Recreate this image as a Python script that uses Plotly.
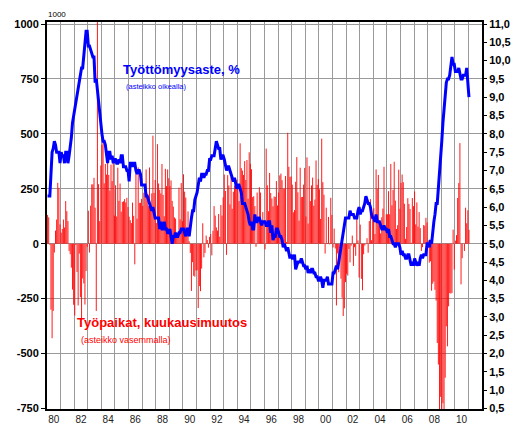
import plotly.graph_objects as go

# ---- Monthly unemployment rate, % (right axis), Jan 1980 .. Jan 2011
unemp_1980s = [
    6.3, 6.3, 6.3, 6.9, 7.5, 7.6, 7.8, 7.7, 7.5, 7.5, 7.5, 7.2,
    7.5, 7.4, 7.4, 7.2, 7.5, 7.5, 7.2, 7.4, 7.6, 7.9, 8.3, 8.5,
    8.6, 8.9, 9.0, 9.3, 9.4, 9.6, 9.8, 9.8, 10.1, 10.4, 10.8, 10.8,
    10.4, 10.4, 10.3, 10.2, 10.1, 10.1, 9.4, 9.5, 9.2, 8.8, 8.5, 8.3,
    8.0, 7.8, 7.8, 7.7, 7.4, 7.2, 7.5, 7.5, 7.3, 7.4, 7.2, 7.3,
    7.3, 7.2, 7.2, 7.3, 7.2, 7.4, 7.4, 7.1, 7.1, 7.1, 7.0, 7.0,
    6.7, 7.2, 7.2, 7.1, 7.2, 7.2, 7.0, 6.9, 7.0, 7.0, 6.9, 6.6,
    6.6, 6.6, 6.6, 6.3, 6.3, 6.2, 6.1, 6.0, 5.9, 6.0, 5.8, 5.7,
    5.7, 5.7, 5.7, 5.4, 5.6, 5.4, 5.4, 5.6, 5.4, 5.4, 5.3, 5.3,
    5.4, 5.2, 5.0, 5.2, 5.2, 5.3, 5.2, 5.2, 5.3, 5.3, 5.4, 5.4,
]
unemp_1990s = [
    5.4, 5.3, 5.2, 5.4, 5.4, 5.2, 5.5, 5.7, 5.9, 5.9, 6.2, 6.3,
    6.4, 6.6, 6.8, 6.7, 6.9, 6.9, 6.8, 6.9, 6.9, 7.0, 7.0, 7.3,
    7.3, 7.4, 7.4, 7.4, 7.6, 7.8, 7.7, 7.6, 7.6, 7.3, 7.4, 7.4,
    7.3, 7.1, 7.0, 7.1, 7.1, 7.0, 6.9, 6.8, 6.7, 6.8, 6.6, 6.5,
    6.6, 6.6, 6.5, 6.4, 6.1, 6.1, 6.1, 6.0, 5.9, 5.8, 5.6, 5.5,
    5.6, 5.4, 5.4, 5.8, 5.6, 5.6, 5.7, 5.7, 5.6, 5.5, 5.6, 5.6,
    5.6, 5.5, 5.5, 5.6, 5.6, 5.3, 5.5, 5.1, 5.2, 5.2, 5.4, 5.4,
    5.3, 5.2, 5.2, 5.1, 4.9, 5.0, 4.9, 4.8, 4.9, 4.7, 4.6, 4.7,
    4.6, 4.6, 4.7, 4.3, 4.4, 4.5, 4.5, 4.5, 4.6, 4.5, 4.4, 4.4,
    4.3, 4.4, 4.2, 4.3, 4.2, 4.3, 4.3, 4.2, 4.2, 4.1, 4.1, 4.0,
]
unemp_2000s = [
    4.0, 4.1, 4.0, 3.8, 4.0, 4.0, 4.0, 4.1, 3.9, 3.9, 3.9, 3.9,
    4.2, 4.2, 4.3, 4.4, 4.3, 4.5, 4.6, 4.9, 5.0, 5.3, 5.5, 5.7,
    5.7, 5.7, 5.7, 5.9, 5.8, 5.8, 5.8, 5.7, 5.7, 5.7, 5.9, 6.0,
    5.8, 5.9, 5.9, 6.0, 6.1, 6.3, 6.2, 6.1, 6.1, 6.0, 5.8, 5.7,
    5.7, 5.6, 5.8, 5.6, 5.6, 5.6, 5.5, 5.4, 5.4, 5.5, 5.4, 5.4,
    5.3, 5.4, 5.2, 5.2, 5.1, 5.0, 5.0, 4.9, 5.0, 5.0, 5.0, 4.9,
    4.7, 4.8, 4.7, 4.7, 4.6, 4.6, 4.7, 4.7, 4.5, 4.4, 4.5, 4.4,
    4.6, 4.5, 4.4, 4.5, 4.4, 4.6, 4.7, 4.6, 4.7, 4.7, 4.7, 5.0,
    5.0, 4.9, 5.1, 5.0, 5.4, 5.6, 5.8, 6.1, 6.1, 6.5, 6.8, 7.3,
    7.8, 8.3, 8.7, 9.0, 9.4, 9.5, 9.5, 9.6, 9.8, 10.1, 9.9, 9.9,
]
unemp_2010s = [
    9.7, 9.7, 9.7, 9.8, 9.6, 9.5, 9.5, 9.6, 9.6, 9.6, 9.8, 9.4,
    9.0,
]

# ---- Monthly change in jobs, thousands (left axis), Jan 1980 .. Jan 2011
jobs_1980s = [
    131, 120, -5, -300, -430, -306, -40, 60, 110, 277, 254, 88,
    50, 67, 110, 74, 194, 148, 103, -33, -48, -109, -209, -278,
    -327, -6, -129, -281, -45, -243, -343, -158, -181, -277, -124, -14,
    150, -40, 173, 270, 270, 300, 164, -306, 1114, 271, 103, 356,
    451, 481, 275, 363, 315, 379, 313, 242, 360, 285, 375, 128,
    266, 124, 346, 195, 274, 146, 190, 193, 203, 188, 209, 167,
    123, 107, 94, 187, 127, -94, 318, 114, 347, 186, 186, 204,
    172, 232, 249, 338, 227, 172, 347, 171, 229, 492, 231, 290,
    94, 453, 274, 245, 229, 363, 222, 125, 341, 262, 338, 298,
    263, 288, 195, 169, 120, 114, 41, 45, 255, 111, 276, 102,
]
jobs_1990s = [
    316, 237, 210, 35, 147, 11, -42, -215, -84, -146, -150, -122,
    -121, -293, -193, -216, -113, 93, -62, -42, 37, 17, -18, 31,
    44, -53, 59, 171, 128, 74, 60, 135, 32, 176, 128, 211,
    315, 240, -51, 312, 265, 179, 301, 159, 236, 265, 277, 291,
    271, 194, 457, 344, 333, 313, 376, 290, 381, 205, 416, 364,
    339, 212, 216, 171, -14, 233, 113, 257, 233, 103, 144, 106,
    -26, 433, 266, 148, 322, 231, 206, 170, 215, 213, 285, 174,
    233, 311, 319, 289, 250, 251, 308, 8, 505, 350, 304, 306,
    269, 143, 153, 282, 394, 234, 105, 346, 212, 213, 269, 345,
    124, 393, 92, 353, 194, 265, 301, 173, 201, 379, 268, 294,
]
jobs_2000s = [
    248, 113, 478, 280, 223, -45, 164, 3, 122, -3, 209, 131,
    -17, 69, -22, -281, -44, -130, -22, -159, -246, -329, -294, -175,
    -137, -145, -24, -85, -9, 37, -101, -16, -55, 124, 15, -154,
    87, -160, -212, -48, -8, -2, 25, -41, 103, 203, 16, 109,
    161, 44, 338, 250, 313, 81, 47, 120, 160, 350, 64, 134,
    134, 239, 134, 363, 175, 245, 373, 196, 67, 84, 337, 159,
    277, 315, 280, 182, 22, 76, 207, 181, 158, 4, 208, 171,
    238, 88, 188, 78, 144, 71, -33, -16, 85, 82, 118, 97,
    15, -86, -80, -214, -182, -172, -210, -259, -452, -550, -765, -697,
    -798, -726, -753, -610, -376, -467, -285, -225, -227, -224, 64, -118,
]
jobs_2010s = [
    14, 39, 208, 276, 458, -185, -66, -1, -33, 164, 93, 152,
    63,
]

x_tick_labels = ["80", "82", "84", "86", "88", "90", "92", "94",
                 "96", "98", "00", "02", "04", "06", "08", "10"]
right_tick_values = [0.5 * k for k in range(1, 23)]
left_ticks = [-750, -500, -250, 0, 250, 500, 750, 1000]

unemp = unemp_1980s + unemp_1990s + unemp_2000s + unemp_2010s
jobs = jobs_1980s + jobs_1990s + jobs_2000s + jobs_2010s
months_u = [1980 + (i + 0.5) / 12 for i in range(len(unemp))]
months_j = [1980 + (i + 0.5) / 12 for i in range(len(jobs))]

# thin monthly bars drawn as vertical line segments from 0 to the value
bar_x, bar_y = [], []
for m, v in zip(months_j, jobs):
    bar_x += [m, m, None]
    bar_y += [0, v, None]

FONT = "Liberation Sans, Arial, sans-serif"

# page body has an 8px default margin -> compensate
OFF = 8
W, H = 520, 435
plot_left, plot_right, plot_top, plot_bottom = 47, 482, 22, 409  # in window pixels
L = plot_left - OFF
T = plot_top - OFF
R = W - (plot_right - OFF)
B = H - (plot_bottom - OFF)
PW, PH = W - L - R, H - T - B


def px(x):
    return (x - OFF - L) / PW


def py(y):
    return (H - B - (y - OFF)) / PH


fig = go.Figure()
fig.add_trace(go.Scatter(x=bar_x, y=bar_y, mode="lines", yaxis="y",
                         line=dict(color="#ff0000", width=0.9),
                         connectgaps=False, showlegend=False, hoverinfo="skip"))
fig.add_trace(go.Scatter(x=months_u, y=unemp, mode="lines", yaxis="y2",
                         line=dict(color="#0000ff", width=3), showlegend=False))

y_lo, y_hi = -752.3, 1009.1

fig.update_layout(
    width=W, height=H,
    margin=dict(l=L, r=R, t=T, b=B, autoexpand=False),
    paper_bgcolor="white", plot_bgcolor="white",
    xaxis=dict(
        range=[1980, 2012],
        tickmode="array",
        tickvals=[1980.5 + 2 * k for k in range(len(x_tick_labels))],
        ticktext=x_tick_labels,
        tickfont=dict(family=FONT, size=10, color="#222"),
        ticks="", showgrid=False, zeroline=False,
        showline=True, linecolor="black", linewidth=2, mirror=True,
        minor=dict(tickmode="linear", tick0=1980, dtick=1, showgrid=True,
                   gridcolor="#9a9a9a", gridwidth=1),
    ),
    yaxis=dict(
        range=[y_lo, y_hi],
        tickmode="array", tickvals=left_ticks, ticktext=[str(v) for v in left_ticks],
        tickfont=dict(family=FONT, size=11, color="black", weight="bold"),
        ticks="outside", ticklen=4, tickcolor="black", tickwidth=1,
        showgrid=True, gridcolor="#9a9a9a", gridwidth=1, zeroline=False,
        showline=True, linecolor="black", linewidth=2,
    ),
    yaxis2=dict(
        overlaying="y", side="right",
        range=[5 + 0.006 * y_lo, 5 + 0.006 * y_hi],
        tickmode="array", tickvals=right_tick_values,
        ticktext=[f"{v:.1f}".replace(".", ",") for v in right_tick_values],
        tickfont=dict(family=FONT, size=11, color="black", weight="bold"),
        ticks="outside", ticklen=3, tickcolor="black", tickwidth=1,
        showgrid=False, zeroline=False,
        showline=True, linecolor="black", linewidth=2,
    ),
    annotations=[
        dict(text="1000", x=px(57), y=py(14), xref="paper", yref="paper",
             showarrow=False, xanchor="center", yanchor="middle",
             font=dict(family=FONT, size=8, color="black")),
        dict(text="Työttömyysaste, %", x=px(121), y=py(69), xref="paper", yref="paper",
             showarrow=False, xanchor="left", yanchor="middle",
             font=dict(family=FONT, size=13, color="#0000ff", weight="bold")),
        dict(text="(asteikko oikealla)", x=px(124), y=py(86), xref="paper", yref="paper",
             showarrow=False, xanchor="left", yanchor="middle",
             font=dict(family=FONT, size=7.5, color="#0000ff")),
        dict(text="Työpaikat, kuukausimuutos", x=px(75), y=py(322), xref="paper", yref="paper",
             showarrow=False, xanchor="left", yanchor="middle",
             font=dict(family=FONT, size=13, color="#ff0000", weight="bold")),
        dict(text="(asteikko vasemmalla)", x=px(78.5), y=py(340), xref="paper", yref="paper",
             showarrow=False, xanchor="left", yanchor="middle",
             font=dict(family=FONT, size=9, color="#ff0000")),
    ],
)

fig.write_html("out.html")
